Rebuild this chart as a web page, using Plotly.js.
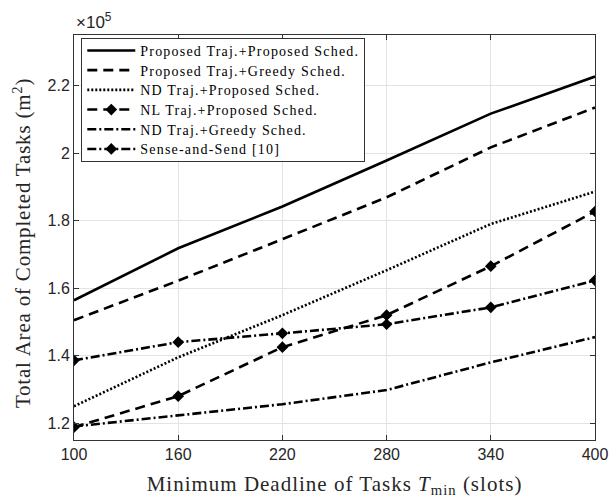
<!DOCTYPE html>
<html><head><meta charset="utf-8">
<script src="https://cdn.plot.ly/plotly-3.0.1.min.js"></script>
<style>html,body{margin:0;padding:0;background:#fff;}#chart{width:613px;height:498px;}
.legendtext{letter-spacing:1.2px;}
.xtitle{letter-spacing:1px;}</style>
</head><body><div id="chart"></div>
<script>
const deadlines = [100, 160, 220, 280, 340, 400];
const propProp = [156400, 171800, 184200, 197800, 211700, 222700];
const propGreedy = [150500, 162200, 174500, 186900, 201700, 213500];
const ndProp = [125000, 139500, 152000, 165300, 179000, 188600];
const nlProp = [118800, 128000, 142500, 152000, 166500, 182700];
const ndGreedy = [119000, 122400, 125600, 129800, 138000, 145500];
const senseSend = [138600, 144000, 146600, 149300, 154300, 162300];
const names = ['Proposed Traj.+Proposed Sched.','Proposed Traj.+Greedy Sched.','ND Traj.+Proposed Sched.','NL Traj.+Proposed Sched.','ND Traj.+Greedy Sched.','Sense-and-Send [10]'];
const yTicks = [120000,140000,160000,180000,200000,220000];
const yTickText = ['1.2','1.4','1.6','1.8','2','2.2'];
const xTicks = [100,160,220,280,340,400];

const series = [propProp, propGreedy, ndProp, nlProp, ndGreedy, senseSend];
const dashes = ['solid','10px,6px','2px,2px','10px,6px','9px,3px,2px,3px','9px,3px,2px,3px'];
const markers = [false,false,false,true,false,true];
const traces = series.map((y,i)=>({
  x: deadlines, y: y, name: names[i], type:'scatter',
  mode: markers[i] ? 'lines+markers' : 'lines',
  line:{color:'#000', width:2.6, dash:dashes[i]},
  marker:{symbol:'diamond', size:9, color:'#000'}
}));
const layout = {
  width:613, height:498,
  margin:{l:74, r:18, t:35, b:58},
  paper_bgcolor:'#fff', plot_bgcolor:'#fff',
  showlegend:true,
  legend:{x:0.014, y:0.993, xanchor:'left', yanchor:'top', bgcolor:'#fff',
    bordercolor:'#333', borderwidth:1, itemwidth:48, tracegroupgap:0,
    font:{family:'Liberation Serif, serif', size:14, color:'#000'}},
  xaxis:{range:[100,400], tickvals:xTicks, ticktext:xTicks.map(String),
    showgrid:true, gridcolor:'#e3e3e3', zeroline:false,
    showline:true, linecolor:'#333', linewidth:1, mirror:'ticks',
    ticks:'inside', ticklen:5, tickcolor:'#333',
    tickfont:{family:'Liberation Sans, Arial, sans-serif', size:16, color:'#262626'},
    title:{text:'Minimum Deadline of Tasks <i>T</i><sub>min</sub> (slots)', standoff:15,
      font:{family:'Liberation Serif, serif', size:21, color:'#262626'}}},
  yaxis:{range:[115000,235000], tickvals:yTicks, ticktext:yTickText,
    showgrid:true, gridcolor:'#e3e3e3', zeroline:false,
    showline:true, linecolor:'#333', linewidth:1, mirror:'ticks',
    ticks:'inside', ticklen:5, tickcolor:'#333',
    tickfont:{family:'Liberation Sans, Arial, sans-serif', size:16, color:'#262626'}},
  annotations:[
    {xref:'paper', yref:'paper', x:0, y:1, xanchor:'left', yanchor:'bottom',
    yshift:1, xshift:0, showarrow:false, text:'×10<sup>5</sup>',
    font:{family:'Liberation Sans, Arial, sans-serif', size:17, color:'#262626'}},
    {xref:'paper', yref:'paper', x:0, y:0.5, xanchor:'center', yanchor:'middle',
    xshift:-52, yshift:-6, textangle:-90, showarrow:false,
    text:'Total Area of Completed Tasks (m<sup>2</sup>)',
    font:{family:'Liberation Serif, serif', size:21, color:'#262626'}}]
};
Plotly.newPlot('chart', traces, layout, {displayModeBar:false, staticPlot:true}).then(()=>{
  const a = document.querySelectorAll('.annotation-text');
  if (a[1]) a[1].style.letterSpacing = '0.8px';
  // tighten legend row spacing to match reference
  const items = Array.from(document.querySelectorAll('.legend .traces'));
  const bg = document.querySelector('.legend rect.bg');
  if (items.length > 1 && bg) {
    const parse = el => {
      const m = /translate\(\s*([-\d.]+)[ ,]+([-\d.]+)/.exec(el.getAttribute('transform') || '');
      return m ? [parseFloat(m[1]), parseFloat(m[2])] : null;
    };
    const pos = items.map(parse);
    if (pos.every(p => p)) {
      const step = 19.7, y0 = pos[0][1], lift = 4;
      items.forEach((el, i) => {
        el.setAttribute('transform', 'translate(' + pos[i][0] + ',' + (y0 - lift + i * step) + ')');
      });
      const yN = pos[pos.length - 1][1];
      const newYN = y0 - lift + (pos.length - 1) * step;
      const H = parseFloat(bg.getAttribute('height'));
      bg.setAttribute('height', H - (yN - newYN) - lift);
    }
  }
});
</script></body></html>
